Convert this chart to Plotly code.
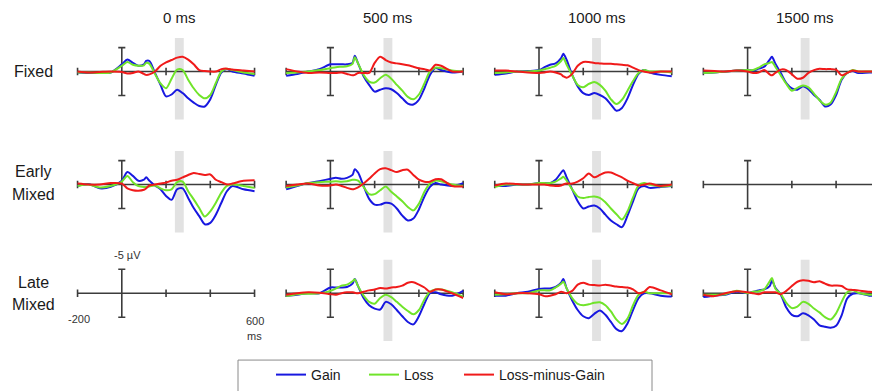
import plotly.graph_objects as go

# ---------------- data ----------------
time_ms = [-200, -150, -100, -50, 0, 25, 50, 75, 100, 110, 125, 150, 175, 200, 225,
           250, 275, 300, 325, 350, 375, 400, 425, 450, 475, 500, 550, 600]

conditions = ["Fixed", "Early Mixed", "Late Mixed"]
delays = ["0 ms", "500 ms", "1000 ms", "1500 ms"]
series_names = ["Gain", "Loss", "Loss-minus-Gain"]
x_ticks = [-200, 200, 400, 600]
scale_bar_uv = 5
window_ms = [240, 280]
window_uv = [-7, 10]

# values in microvolts (positive plotted downward)
fixed_0_gain = [0.2, 0.3, 0.3, 0.2, -1.5, -2.5, -1.8, -1.2, -1.5, -2.2, -2.2, 0.3, 2.8, 5.2, 4.8,
                3.8, 4.5, 5.6, 6.5, 7.2, 7.3, 5.8, 2.8, 0.2, -0.5, 0.0, 0.4, 0.9]
fixed_0_loss = [0.2, 0.2, 0.3, 0.2, -1.2, -2.0, -1.4, -1.2, -1.3, -1.8, -1.6, 0.5, 2.5, 3.5, 1.5,
                -0.4, -0.3, 1.7, 3.5, 4.9, 5.6, 4.9, 2.4, 0.0, -0.6, -0.3, 0.2, 0.5]
fixed_0_diff = [0.0, 0.2, 0.1, 0.0, 0.1, 0.4, 0.3, 0.0, 0.5, 0.7, 0.6, 0.0, -1.2, -1.9, -2.4,
                -2.9, -3.1, -2.5, -1.5, -0.3, -0.1, 0.0, 0.0, -0.5, -0.6, -0.4, -0.2, 0.0]

fixed_500_gain = [0.9, 0.5, 0.0, -0.5, -1.5, -1.5, -1.5, -1.5, -1.8, -3.3, -1.7, 1.0, 2.8, 4.2, 3.8,
                  3.5, 3.7, 4.5, 5.6, 6.7, 6.9, 5.9, 3.5, 0.7, -0.7, -0.3, 0.2, 0.0]
fixed_500_loss = [0.3, 0.2, 0.0, -0.3, -0.7, -0.9, -1.0, -1.1, -1.6, -3.0, -1.7, 0.7, 2.1, 2.3, 1.4,
                  0.7, 1.5, 2.8, 4.0, 5.3, 5.8, 4.8, 2.5, 0.0, -0.8, -0.7, -0.2, 0.0]
fixed_500_diff = [-0.5, 0.0, 0.3, 0.2, 0.3, 0.3, 0.2, 0.5, 0.8, 0.7, 0.3, 0.3, 0.3, -1.8, -3.1,
                  -2.4, -1.9, -1.7, -1.5, -1.3, -1.0, -0.7, -0.5, -0.2, -1.4, -1.2, 0.0, 0.0]

fixed_1000_gain = [0.7, 0.4, 0.0, -0.1, -0.3, -0.9, -1.4, -1.7, -2.8, -3.7, -2.4, 0.7, 3.1, 4.5, 4.9,
                   4.5, 4.9, 5.6, 6.9, 8.2, 7.6, 5.6, 2.8, 0.5, -0.3, 0.2, 0.7, 1.0]
fixed_1000_loss = [0.3, 0.2, 0.0, 0.0, -0.2, -0.5, -0.8, -1.2, -2.2, -2.8, -1.4, 0.8, 2.8, 3.3, 2.6,
                   2.2, 2.8, 4.0, 5.8, 6.8, 5.9, 4.0, 2.0, 0.3, -0.3, 0.0, 0.0, 0.2]
fixed_1000_diff = [-0.2, -0.2, 0.0, 0.2, 0.3, 0.2, 0.0, 0.2, 0.6, 1.0, 1.3, 0.5, -1.2, -2.0, -2.0,
                   -1.8, -1.7, -1.6, -1.6, -1.5, -1.4, -1.3, -0.8, -0.3, 0.0, 0.2, 0.0, 0.0]

fixed_1500_gain = [0.3, 0.2, 0.0, -0.2, -0.3, -0.2, -0.6, -1.0, -2.5, -3.1, -1.7, 0.3, 2.4, 3.5, 3.8,
                   3.1, 3.7, 4.9, 5.9, 7.3, 6.9, 4.9, 1.7, 0.3, -0.1, 0.3, 0.2, 0.2]
fixed_1500_loss = [0.3, 0.2, 0.0, -0.2, -0.3, -0.3, -0.8, -1.5, -1.8, -2.0, -1.0, 0.8, 2.6, 4.0, 3.4,
                   2.9, 3.3, 4.6, 6.0, 6.9, 6.5, 4.3, 1.5, 0.3, -0.3, 0.0, 0.0, 0.0]
fixed_1500_diff = [-0.2, -0.1, 0.0, -0.2, 0.0, 0.3, 0.2, -0.3, 0.6, 0.8, 0.3, -0.4, -0.3, 0.6, 1.5,
                   1.3, 0.3, -0.3, -0.6, -0.5, -0.5, -0.4, 0.8, 0.3, -0.2, 0.0, 0.0, 0.0]

early_0_gain = [0.3, -0.1, 0.8, 0.5, -0.8, -2.6, -1.8, -0.8, -1.0, -1.5, -0.8, 0.2, 1.0, 2.4, 3.2,
                1.0, 0.8, 2.8, 4.9, 6.6, 8.3, 8.0, 6.3, 3.8, 1.4, 0.3, 1.0, 1.4]
early_0_loss = [0.3, 0.0, 0.6, 0.3, -0.6, -1.8, -0.5, 0.3, 0.5, 0.5, 0.4, 0.2, 0.8, 1.2, 1.0,
                -0.5, -0.6, 1.4, 3.1, 4.9, 6.7, 5.6, 3.8, 1.7, 0.3, 0.0, 0.3, 0.7]
early_0_diff = [-0.2, 0.0, 0.0, -0.3, -0.2, 0.8, 1.2, 1.3, 1.1, 0.8, 0.2, 0.0, -0.2, -0.4, -0.8,
                -1.0, -1.5, -2.0, -2.4, -2.2, -2.0, -2.1, -1.0, -0.5, 0.0, -0.2, -0.8, -0.9]

early_500_gain = [1.0, 0.3, -0.3, -0.7, -1.2, -1.4, -1.2, -1.4, -2.0, -3.2, -2.5, 0.3, 3.0, 4.2, 4.2,
                  3.8, 4.0, 5.0, 6.5, 7.5, 7.1, 5.2, 2.5, 0.5, -0.3, 0.0, 0.3, -0.3]
early_500_loss = [0.6, 0.2, -0.3, -0.5, -0.6, -0.7, -0.6, -0.7, -1.0, -1.0, -0.8, 0.5, 2.0, 2.0, 1.2,
                  0.4, 1.5, 2.5, 3.5, 4.7, 5.4, 4.0, 1.5, -0.2, -0.8, -0.7, 0.0, 0.3]
early_500_diff = [0.3, 0.0, -0.2, 0.2, 0.2, 0.0, 0.3, 0.7, 1.0, 0.9, 0.6, -0.2, -1.2, -2.3, -3.2,
                  -3.4, -3.0, -2.6, -3.0, -3.1, -2.0, -1.0, -0.6, -0.6, -1.1, -1.1, 0.3, 0.4]

early_1000_gain = [0.3, 0.3, 0.0, 0.0, -0.3, -0.3, -0.3, -1.0, -2.5, -3.0, -1.5, 1.0, 3.5, 5.0, 4.6,
                   4.4, 5.0, 6.3, 7.5, 8.3, 8.9, 6.5, 3.5, 0.8, 0.3, 0.7, 0.5, 0.3]
early_1000_loss = [0.5, 0.0, 0.0, 0.0, -0.3, -0.3, -0.3, -0.6, -1.3, -1.6, -0.8, 1.0, 2.5, 2.8, 2.6,
                   2.5, 2.8, 3.7, 5.0, 6.2, 7.3, 5.6, 2.7, 0.2, -0.3, 0.0, 0.4, 0.2]
early_1000_diff = [0.2, -0.2, -0.1, 0.0, 0.0, 0.0, 0.2, 0.3, 0.2, 0.0, -0.2, -0.2, -0.6, -1.3, -2.3,
                   -1.5, -2.0, -2.5, -2.5, -2.0, -1.5, -0.8, -0.3, 0.2, 0.0, -0.2, 0.3, 0.0]

late_500_gain = [0.5, 0.3, 0.0, 0.0, -1.2, -1.2, -1.2, -1.3, -2.0, -3.0, -1.5, 1.0, 2.5, 3.2, 3.4,
                 1.8, 2.3, 3.5, 4.8, 6.0, 6.5, 4.8, 2.2, 0.0, -0.2, 0.2, 0.5, -0.5]
late_500_loss = [0.6, 0.2, 0.1, 0.0, -0.5, -1.0, -1.6, -1.8, -2.5, -2.9, -1.5, 0.5, 1.8, 2.2, 1.0,
                 0.3, 0.8, 1.8, 2.8, 3.7, 4.4, 3.5, 1.3, -0.3, -0.8, -0.8, -0.2, 0.7]
late_500_diff = [0.3, 0.0, -0.2, -0.1, 0.2, 0.3, 0.0, -0.2, -0.2, -0.1, 0.0, -0.3, -0.6, -0.8, -1.1,
                 -1.0, -1.2, -1.3, -1.6, -2.2, -2.3, -1.8, -1.2, -0.3, -0.8, -0.8, 0.0, 1.0]

late_1000_gain = [0.5, 0.5, 0.0, -0.3, -0.9, -1.0, -1.0, -1.3, -2.2, -3.0, -1.0, 1.5, 3.5, 4.8, 5.2,
                  4.3, 3.6, 4.5, 6.0, 7.5, 7.9, 6.3, 3.5, 1.0, 0.0, 0.0, 0.5, 0.7]
late_1000_loss = [0.3, 0.2, 0.0, 0.0, -0.6, -0.6, -0.6, -1.2, -2.0, -2.4, -1.0, 1.0, 2.2, 2.5, 2.3,
                  2.0, 1.9, 2.5, 3.8, 5.5, 6.4, 5.3, 2.5, 0.3, -0.3, 0.0, 0.0, 0.0]
late_1000_diff = [-0.2, 0.2, 0.0, 0.0, 0.2, 0.6, 0.5, 0.2, -0.3, -0.2, 0.0, -0.5, -1.8, -2.2, -1.8,
                  -1.7, -1.6, -1.8, -1.6, -1.4, -1.3, -1.2, -0.8, 0.0, -0.3, -1.3, -0.6, 0.2]

late_1500_gain = [0.8, 0.5, 0.3, -0.3, 0.0, -0.3, -0.6, -0.8, -1.5, -2.6, -1.2, 0.3, 3.0, 4.5, 4.8,
                  4.2, 4.6, 5.5, 6.7, 7.0, 7.2, 6.8, 4.6, 1.1, 0.1, 0.0, 0.5, 0.5]
late_1500_loss = [0.3, 0.3, 0.2, -0.5, 0.0, -0.3, -0.4, -0.8, -2.5, -3.2, -1.0, 0.2, 2.0, 3.1, 2.8,
                  1.8, 2.2, 3.2, 4.0, 5.0, 5.5, 4.2, 1.8, -0.2, -0.6, -0.1, 0.3, 0.3]
late_1500_diff = [0.3, 0.6, 0.0, -0.4, -0.2, 0.0, 0.2, -0.2, -0.2, -0.2, -0.2, 0.2, -0.5, -1.5, -2.4,
                  -2.7, -2.6, -2.3, -2.5, -2.0, -1.6, -1.6, -1.5, -0.8, -0.7, -0.6, -0.3, -0.3]

colors = ["#1818e0", "#70e42a", "#f01a1a"]

panel_data = {
    (0, 0): (fixed_0_gain, fixed_0_loss, fixed_0_diff),
    (0, 1): (fixed_500_gain, fixed_500_loss, fixed_500_diff),
    (0, 2): (fixed_1000_gain, fixed_1000_loss, fixed_1000_diff),
    (0, 3): (fixed_1500_gain, fixed_1500_loss, fixed_1500_diff),
    (1, 0): (early_0_gain, early_0_loss, early_0_diff),
    (1, 1): (early_500_gain, early_500_loss, early_500_diff),
    (1, 2): (early_1000_gain, early_1000_loss, early_1000_diff),
    (2, 1): (late_500_gain, late_500_loss, late_500_diff),
    (2, 2): (late_1000_gain, late_1000_loss, late_1000_diff),
    (2, 3): (late_1500_gain, late_1500_loss, late_1500_diff),
}

# ---------------- layout geometry ----------------
W, H = 872, 391
PX_MS = 0.22125
PX_UV = 4.8
col_zero = [121.8, 330.4, 539.0, 747.6]
row_axis = [71.7, 185.0, 294.0]
XPAD = 15
YR = 11
FONT = "Liberation Sans, Arial, sans-serif"
AX_COL = "#3c3c3c"
legend_keys = ["legend", "legend2", "legend3"]
legend_x_px = [271, 364, 459]

fig = go.Figure()
layout = {}
shapes = []
annotations = []

def ax_names(i):
    return ("x" if i == 1 else f"x{i}", "y" if i == 1 else f"y{i}",
            "xaxis" if i == 1 else f"xaxis{i}", "yaxis" if i == 1 else f"yaxis{i}")

for r in range(3):
    for c in range(4):
        i = r * 4 + c + 1
        xr, yr, xk, yk = ax_names(i)
        x_lo, x_hi = -200 - XPAD, 600 + XPAD
        left = col_zero[c] + x_lo * PX_MS
        right = col_zero[c] + x_hi * PX_MS
        if right > W:
            x_hi = (W - col_zero[c]) / PX_MS
            right = W
        top = row_axis[r] - YR * PX_UV
        bot = row_axis[r] + YR * PX_UV
        layout[xk] = dict(domain=[left / W, right / W], range=[x_lo, x_hi],
                          visible=False, anchor=yr, fixedrange=True)
        layout[yk] = dict(domain=[1 - bot / H, 1 - top / H], range=[YR, -YR],
                          visible=False, anchor=xr, fixedrange=True)

        has = (r, c) in panel_data
        if has:
            shapes.append(dict(type="rect", xref=xr, yref=yr, x0=window_ms[0], x1=window_ms[1],
                               y0=window_uv[0], y1=window_uv[1], fillcolor="#e2e2e2",
                               line=dict(width=0), layer="below"))
        line = dict(color=AX_COL, width=1.6)
        shapes.append(dict(type="line", xref=xr, yref=yr, x0=x_ticks[0], x1=x_ticks[-1],
                           y0=0, y1=0, line=line, layer="below"))
        for t in x_ticks:
            shapes.append(dict(type="line", xref=xr, yref=yr, x0=t, x1=t, y0=-0.8, y1=0.8,
                               line=line, layer="below"))
        shapes.append(dict(type="line", xref=xr, yref=yr, x0=0, x1=0,
                           y0=-scale_bar_uv, y1=scale_bar_uv, line=line, layer="below"))
        for v in (-scale_bar_uv, scale_bar_uv):
            shapes.append(dict(type="line", xref=xr, yref=yr, x0=-16, x1=16, y0=v, y1=v,
                               line=line, layer="below"))

        if has:
            for k, vals in enumerate(panel_data[(r, c)]):
                fig.add_trace(go.Scatter(
                    x=time_ms, y=vals, mode="lines", name=series_names[k],
                    line=dict(color=colors[k], width=2, shape="spline", smoothing=0.8),
                    xaxis=xr, yaxis=yr, showlegend=(r, c) == (0, 0),
                    legend=legend_keys[k], hoverinfo="skip"))

        if r == 0:
            annotations.append(dict(text=delays[c], xref=xr, yref="paper", x=260,
                                    y=1 - 18 / H, showarrow=False, xanchor="center",
                                    yanchor="middle",
                                    font=dict(size=15, color="#1a1a1a", family=FONT)))

# row labels
row_label_px = [[72], [172, 195], [283, 305]]
for r, cond in enumerate(conditions):
    for w, yp in zip(cond.split(" "), row_label_px[r]):
        annotations.append(dict(text=w, xref="paper", yref="paper", x=33 / W, y=1 - yp / H,
                                showarrow=False, xanchor="center", yanchor="middle",
                                font=dict(size=16, color="#1a1a1a", family=FONT)))

# scale labels on the empty Late Mixed / 0 ms panel
lab_font = dict(size=11, color="#333333", family=FONT)
lab_common = dict(xref="x9", yref="y9", showarrow=False, xanchor="center", yanchor="middle",
                  font=lab_font)
annotations += [
    dict(lab_common, text="-5 µV", x=28, y=-7.9),
    dict(lab_common, text=str(x_ticks[0]), x=-195, y=5.3),
    dict(lab_common, text=str(x_ticks[-1]), x=600, y=5.7),
    dict(lab_common, text="ms", x=600, y=9.0),
]

# legend frame
shapes.append(dict(type="rect", xref="paper", yref="paper", x0=238 / W, x1=652 / W,
                   y0=1 - 396 / H, y1=1 - 361 / H, line=dict(color="#8a8a8a", width=1),
                   fillcolor="rgba(0,0,0,0)"))

legend_common = dict(orientation="h", xanchor="left", y=1 - 376 / H, yanchor="middle",
                     font=dict(size=14, color="#1a1a1a", family=FONT),
                     bgcolor="rgba(0,0,0,0)", itemwidth=30)
legends = {key: dict(legend_common, x=px / W) for key, px in zip(legend_keys, legend_x_px)}

fig.update_layout(
    width=W, height=H, margin=dict(l=0, r=0, t=0, b=0),
    paper_bgcolor="white", plot_bgcolor="rgba(0,0,0,0)",
    shapes=shapes, annotations=annotations,
    showlegend=True,
    **legends,
    **layout,
)

fig.write_html("out.html", include_plotlyjs=True, config={"displayModeBar": False},
               post_script="document.body.style.margin='0';document.body.style.overflow='hidden';")
